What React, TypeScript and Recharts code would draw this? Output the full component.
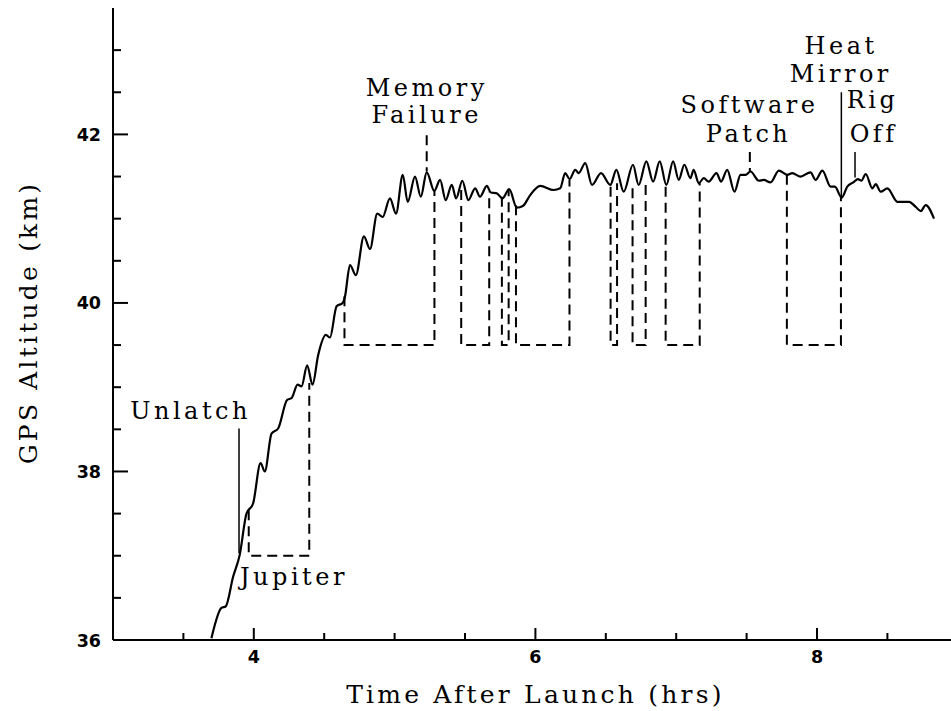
import React from 'react';
import { ComposedChart, Line, XAxis, YAxis, ReferenceLine, ReferenceDot } from 'recharts';

// GPS track: time after launch (hrs) and altitude (km)
const timeHrs = [
  3.699, 3.770, 3.801, 3.853, 3.900, 3.948, 3.995, 4.048, 4.078, 4.126,
  4.173, 4.237, 4.268, 4.311, 4.339, 4.379, 4.417, 4.457, 4.512, 4.541,
  4.588, 4.631, 4.647, 4.683, 4.725, 4.782, 4.825, 4.877, 4.915, 4.967,
  5.010, 5.058, 5.093, 5.145, 5.186, 5.228, 5.282, 5.323, 5.363, 5.406,
  5.437, 5.481, 5.524, 5.572, 5.607, 5.655, 5.683, 5.726, 5.766, 5.814,
  5.868, 5.911, 5.963, 6.034, 6.129, 6.176, 6.212, 6.243, 6.283, 6.307,
  6.354, 6.402, 6.466, 6.532, 6.575, 6.627, 6.693, 6.733, 6.788, 6.836,
  6.883, 6.930, 6.978, 7.018, 7.058, 7.101, 7.124, 7.160, 7.196, 7.231,
  7.286, 7.319, 7.362, 7.414, 7.457, 7.492, 7.528, 7.587, 7.622, 7.670,
  7.729, 7.789, 7.824, 7.883, 7.954, 7.990, 8.038, 8.097, 8.127, 8.175,
  8.215, 8.258, 8.291, 8.315, 8.346, 8.393, 8.417, 8.452, 8.500, 8.571,
  8.654, 8.701, 8.737, 8.772, 8.831,
];
const altitudeKm = [
  36.02, 36.38, 36.40, 36.75, 37.01, 37.50, 37.62, 38.10, 38.00, 38.45,
  38.51, 38.85, 38.87, 39.03, 39.01, 39.26, 39.03, 39.38, 39.62, 39.59,
  39.96, 40.00, 40.07, 40.45, 40.33, 40.79, 40.64, 41.06, 41.02, 41.24,
  41.06, 41.52, 41.20, 41.50, 41.26, 41.55, 41.33, 41.46, 41.22, 41.40,
  41.24, 41.45, 41.22, 41.36, 41.26, 41.39, 41.31, 41.30, 41.24, 41.35,
  41.13, 41.15, 41.28, 41.39, 41.34, 41.36, 41.54, 41.47, 41.58, 41.54,
  41.66, 41.40, 41.54, 41.40, 41.58, 41.32, 41.64, 41.40, 41.68, 41.44,
  41.68, 41.40, 41.68, 41.46, 41.64, 41.48, 41.58, 41.42, 41.48, 41.44,
  41.54, 41.44, 41.58, 41.32, 41.52, 41.52, 41.56, 41.45, 41.46, 41.43,
  41.57, 41.52, 41.54, 41.50, 41.55, 41.46, 41.57, 41.38, 41.38, 41.25,
  41.38, 41.43, 41.47, 41.45, 41.53, 41.36, 41.41, 41.32, 41.36, 41.20,
  41.20, 41.14, 41.09, 41.16, 41.00,
];

// dashed boxes (observation windows): edges, where each edge meets the track, floor
const boxStart = [3.964, 4.644, 5.473, 5.762, 5.862, 6.534, 6.690, 6.925, 7.786];
const boxEnd = [4.394, 5.283, 5.672, 5.810, 6.242, 6.580, 6.783, 7.167, 8.170];
const boxStartTop = [37.54, 40.08, 41.34, 41.26, 41.16, 41.38, 41.36, 41.38, 41.52];
const boxEndTop = [39.05, 41.33, 41.32, 41.34, 41.46, 41.42, 41.40, 41.42, 41.26];
const boxFloor = [37.0, 39.5, 39.5, 39.5, 39.5, 39.5, 39.5, 39.5, 39.5];

// event markers
const markerTime = [3.895, 5.228, 7.523, 8.173, 8.270];
const markerFrom = [38.51, 41.99, 41.79, 42.50, 41.79];
const markerTo = [37.03, 41.56, 41.56, 41.25, 41.49];
const markerDashed = [false, true, true, false, false];

// annotation text (one entry per line, anchored at baseline centre)
const noteText = ['Unlatch', 'Jupiter', 'Memory', 'Failure', 'Software', 'Patch', 'Heat', 'Mirror', 'Rig', 'Off'];
const noteTime = [3.551, 4.285, 5.228, 5.228, 7.521, 7.514, 8.171, 8.169, 8.395, 8.402];
const noteKm = [38.62, 36.65, 42.46, 42.13, 42.25, 41.91, 42.95, 42.62, 42.31, 41.91];

const xTicks = [3.5, 4, 4.5, 5, 5.5, 6, 6.5, 7, 7.5, 8, 8.5];
const xMajor = [4, 6, 8];
const yTicks = [36, 36.5, 37, 37.5, 38, 38.5, 39, 39.5, 40, 40.5, 41, 41.5, 42, 42.5, 43];
const yMajor = [36, 38, 40, 42];

const trackData = timeHrs.map((t, i) => ({ t, km: altitudeKm[i] }));
const boxData = boxStart.map((s, i) => [
  { t: s, km: boxStartTop[i] },
  { t: s, km: boxFloor[i] },
  { t: boxEnd[i], km: boxFloor[i] },
  { t: boxEnd[i], km: boxEndTop[i] },
]);

const tickFont = { fontFamily: 'DejaVu Sans', fontWeight: 700, fontSize: 17.5, fill: '#000' };
const titleFont = { fontFamily: 'DejaVu Serif', fontSize: 25, letterSpacing: 3.2, fill: '#000' };
const noteFont = { fontFamily: 'DejaVu Serif', fontSize: 24, letterSpacing: 3.5, fill: '#000' };

const BottomTick = ({ x, y, payload }: any) => {
  const major = xMajor.includes(payload.value);
  return (
    <g>
      <line x1={x} x2={x} y1={y} y2={y - (major ? 12 : 7)} stroke="#000" strokeWidth={2} />
      {major && (
        <text x={x} y={y + 23} textAnchor="middle" style={tickFont}>{payload.value}</text>
      )}
    </g>
  );
};

const TopTick = ({ x, y, payload }: any) => {
  const major = xMajor.includes(payload.value);
  return <line x1={x} x2={x} y1={y} y2={y + (major ? 12 : 7)} stroke="#000" strokeWidth={2} />;
};

const LeftTick = ({ x, y, payload }: any) => {
  const major = yMajor.includes(payload.value);
  return (
    <g>
      <line x1={x} x2={x + (major ? 15 : 8)} y1={y} y2={y} stroke="#000" strokeWidth={2} />
      {major && (
        <text x={x - 12} y={y + 6.5} textAnchor="end" style={tickFont}>{payload.value}</text>
      )}
    </g>
  );
};

const RightTick = ({ x, y, payload }: any) => {
  const major = yMajor.includes(payload.value);
  return <line x1={x} x2={x - (major ? 15 : 8)} y1={y} y2={y} stroke="#000" strokeWidth={2} />;
};

const XTitle = (props: any) => {
  const vb = props.viewBox || { x: 113, y: 640, width: 845, height: 71 };
  return (
    <text x={vb.x + vb.width / 2} y={vb.y + 63} textAnchor="middle" style={titleFont}>
      Time After Launch (hrs)
    </text>
  );
};

const YTitle = (props: any) => {
  const vb = props.viewBox || { x: 0, y: 8, width: 113, height: 632 };
  const cx = vb.x + 37;
  const cy = vb.y + vb.height / 2 - 1.5;
  return (
    <text x={cx} y={cy} transform={`rotate(-90 ${cx} ${cy})`} textAnchor="middle" style={titleFont}>
      GPS Altitude (km)
    </text>
  );
};

const noteLabel = (text: string) => (props: any) => {
  const vb = props.viewBox || { x: 0, y: 0 };
  return (
    <text x={vb.x} y={vb.y} textAnchor="middle" style={noteFont}>{text}</text>
  );
};

export default function App() {
  return (
    <div style={{ position: 'absolute', left: 0, top: 0, width: 951, height: 711, overflow: 'hidden', background: '#fff' }}>
      <ComposedChart
        width={970}
        height={711}
        data={trackData}
        margin={{ top: 8, right: 12.2, left: 0, bottom: 0 }}
      >
        <XAxis
          dataKey="t"
          type="number"
          domain={[3, 9]}
          allowDataOverflow
          ticks={xTicks}
          interval={0}
          height={71}
          tickSize={0}
          tickMargin={0}
          tick={<BottomTick />}
          axisLine={{ stroke: '#000', strokeWidth: 2 }}
          label={XTitle}
        />
        <XAxis
          xAxisId="top"
          orientation="top"
          dataKey="t"
          type="number"
          domain={[3, 9]}
          allowDataOverflow
          ticks={xTicks}
          interval={0}
          height={0}
          tickSize={0}
          tickMargin={0}
          tick={<TopTick />}
          axisLine={{ stroke: '#000', strokeWidth: 2 }}
        />
        <YAxis
          type="number"
          domain={[36, 43.5]}
          allowDataOverflow
          ticks={yTicks}
          interval={0}
          width={113}
          tickSize={0}
          tickMargin={0}
          tick={<LeftTick />}
          axisLine={{ stroke: '#000', strokeWidth: 2 }}
          label={YTitle}
        />
        <YAxis
          yAxisId="right"
          orientation="right"
          type="number"
          domain={[36, 43.5]}
          allowDataOverflow
          ticks={yTicks}
          interval={0}
          width={0}
          tickSize={0}
          tickMargin={0}
          tick={<RightTick />}
          axisLine={{ stroke: '#000', strokeWidth: 2 }}
        />

        {boxData.map((d, i) => (
          <Line
            key={`box-${i}`}
            data={d}
            dataKey="km"
            type="linear"
            stroke="#000"
            strokeWidth={2}
            strokeDasharray="10 6"
            dot={false}
            activeDot={false}
            isAnimationActive={false}
          />
        ))}

        {markerTime.map((t, i) => (
          <ReferenceLine
            key={`mark-${i}`}
            segment={[{ x: t, y: markerFrom[i] }, { x: t, y: markerTo[i] }]}
            stroke="#000"
            strokeWidth={markerDashed[i] ? 2 : 1.5}
            strokeDasharray={markerDashed[i] ? '10 6' : undefined}
          />
        ))}

        <Line
          dataKey="km"
          type="monotone"
          stroke="#000"
          strokeWidth={2.2}
          dot={false}
          activeDot={false}
          isAnimationActive={false}
        />

        {noteText.map((text, i) => (
          <ReferenceDot
            key={`note-${i}`}
            x={noteTime[i]}
            y={noteKm[i]}
            r={0}
            fill="none"
            stroke="none"
            label={noteLabel(text)}
          />
        ))}
      </ComposedChart>
    </div>
  );
}
